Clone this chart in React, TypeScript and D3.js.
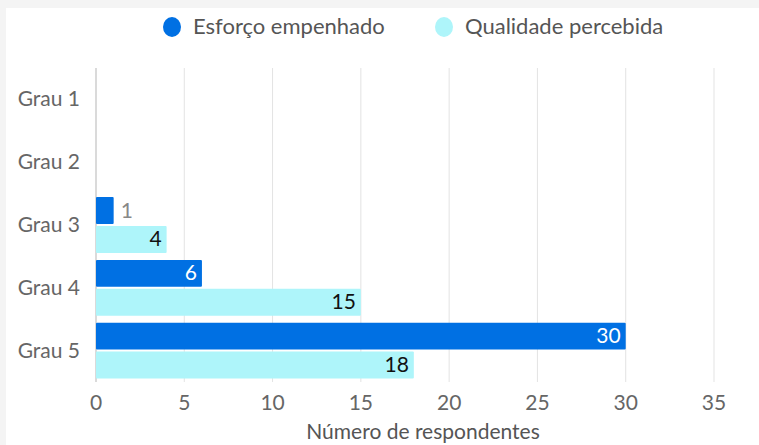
import React from 'react';
import * as d3 from 'd3';

const categories = ['Grau 1', 'Grau 2', 'Grau 3', 'Grau 4', 'Grau 5'];
const seriesNames = ['Esforço empenhado', 'Qualidade percebida'];
const esforco = [0, 0, 1, 6, 30];
const qualidade = [0, 0, 4, 15, 18];
const xTicks = [0, 5, 10, 15, 20, 25, 30, 35];
const colors = ['#0070e3', '#aef5fa'];
const labelColors = ['#ffffff', '#111111'];

const W = 759;
const H = 445;
const FONT = 'Lato, "Noto Sans", sans-serif';

export default function App() {
  const x = d3.scaleLinear().domain([0, 35]).range([96, 714]);
  const y = d3.scaleBand().domain(categories).range([68, 382]).paddingInner(0.08).paddingOuter(0.04);
  const sub = d3.scaleBand().domain(seriesNames).range([0, y.bandwidth()]);
  const values = [esforco, qualidade];

  return (
    <div style={{ position: 'fixed', top: 0, left: 0, width: W, height: H }}>
      <svg width={W} height={H} style={{ display: 'block', fontFamily: FONT }}>
        <rect x={0} y={0} width={W} height={H} fill="#f4f4f4" />
        <rect x={6} y={8} width={W - 6} height={H - 8} fill="#ffffff" />

        {/* legend */}
        {seriesNames.map((name, i) => {
          const lx = i === 0 ? 172 : 444;
          return (
            <g key={name}>
              <ellipse cx={lx} cy={27} rx={9} ry={10} fill={colors[i]} />
              <text x={lx + 21} y={34} fontSize={22} fill="#555">{name}</text>
            </g>
          );
        })}

        {/* grid */}
        {xTicks.map(t => (
          <line key={t} x1={x(t)} x2={x(t)} y1={68} y2={382}
            stroke={t === 0 ? '#b5b5b5' : '#e3e3e3'} strokeWidth={1} />
        ))}

        {/* bars */}
        {categories.map((c, ci) => (
          <g key={c} transform={`translate(0,${y(c)})`}>
            {seriesNames.map((s, si) => {
              const v = values[si][ci];
              if (!v) return null;
              const by = sub(s)! + 1;
              const bh = sub.bandwidth() - 2;
              const w = x(v) - x(0);
              const inside = w > 20;
              return (
                <g key={s}>
                  <rect x={x(0)} y={by} width={w} height={bh} fill={colors[si]} rx={1} />
                  <text
                    x={inside ? x(v) - 5 : x(v) + 7}
                    y={by + bh / 2 + 7}
                    textAnchor={inside ? 'end' : 'start'}
                    fontSize={21}
                    fill={inside ? labelColors[si] : '#888'}
                  >{v}</text>
                </g>
              );
            })}
          </g>
        ))}

        {/* category labels */}
        {categories.map(c => (
          <text key={c} x={80} y={y(c)! + y.bandwidth() / 2 + 7} textAnchor="end" fontSize={21} fill="#666">{c}</text>
        ))}

        {/* x tick labels */}
        {xTicks.map(t => (
          <text key={t} x={x(t)} y={410} textAnchor="middle" fontSize={21} fill="#666">{t}</text>
        ))}

        <text x={423} y={439} textAnchor="middle" fontSize={21} fill="#555">Número de respondentes</text>
      </svg>
    </div>
  );
}
